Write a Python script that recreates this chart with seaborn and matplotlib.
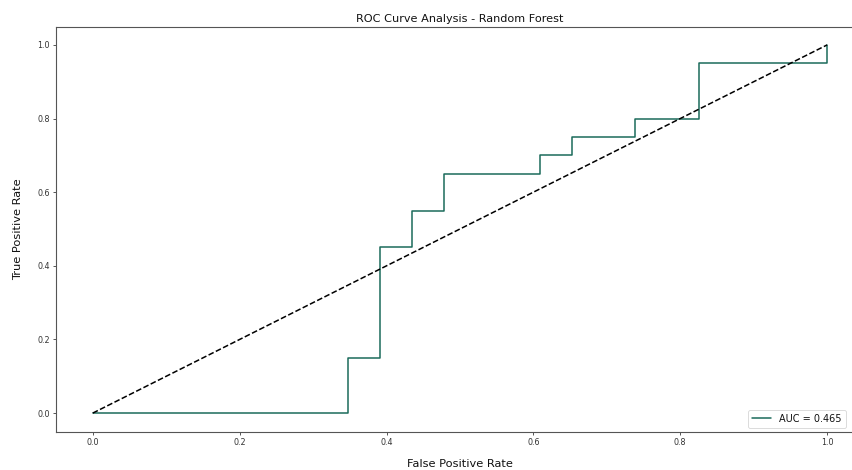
import numpy as np
import pandas as pd
import matplotlib
matplotlib.use("Agg")
import matplotlib.pyplot as plt
import seaborn as sns

# ROC curve vertices (false positive rate, true positive rate)
fpr = [0.0, 0.348, 0.348, 0.391, 0.391, 0.435, 0.435, 0.478, 0.478,
       0.609, 0.609, 0.652, 0.652, 0.739, 0.739, 0.826, 0.826, 1.0, 1.0]
tpr = [0.0, 0.0, 0.15, 0.15, 0.45, 0.45, 0.55, 0.55, 0.65,
       0.65, 0.70, 0.70, 0.75, 0.75, 0.80, 0.80, 0.95, 0.95, 1.0]

# chance diagonal
chance_x = [0.0, 1.0]
chance_y = [0.0, 1.0]

tick_vals = [0.0, 0.2, 0.4, 0.6, 0.8, 1.0]

auc = np.trapezoid(tpr, fpr)

sns.set_style("ticks")
plt.rcParams["font.family"] = ["DejaVu Sans"]
plt.rcParams["axes.edgecolor"] = "#555555"
plt.rcParams["xtick.color"] = "#555555"
plt.rcParams["ytick.color"] = "#555555"
plt.rcParams["xtick.labelcolor"] = "#333333"
plt.rcParams["ytick.labelcolor"] = "#333333"
plt.rcParams["text.color"] = "#111111"
plt.rcParams["axes.labelcolor"] = "#111111"

fig = plt.figure(figsize=(8.53, 4.70), dpi=100)
ax = fig.add_axes([0.0657, 0.0819, 0.947, 0.8617])

roc_df = pd.DataFrame({"fpr": fpr, "tpr": tpr})
sns.lineplot(data=roc_df, x="fpr", y="tpr", sort=False, estimator=None,
             color="#1b6b5b", linewidth=1.1, label=f"AUC = {auc:.3f}", ax=ax)
sns.lineplot(x=chance_x, y=chance_y, color="black", linestyle="--",
             linewidth=1.1, ax=ax)

ax.set_xticks(tick_vals)
ax.set_yticks(tick_vals)
ax.tick_params(labelsize=5.8, length=2.5, width=0.7, pad=2)
for s in ax.spines.values():
    s.set_linewidth(0.8)

ax.set_title("ROC Curve Analysis - Random Forest", fontsize=8.1, pad=3)
ax.set_xlabel("False Positive Rate", fontsize=8.2, labelpad=9)
ax.set_ylabel("True Positive Rate", fontsize=8.2, labelpad=10)

# legend anchored to the figure's right edge so its text stays in view
leg = ax.legend(loc="lower right", fontsize=7.0, frameon=True,
                handlelength=2.0, borderpad=0.4,
                bbox_to_anchor=(0.997, 0.0795), bbox_transform=fig.transFigure)
leg.get_frame().set_linewidth(0.6)

fig.savefig("out.png", dpi=100)
